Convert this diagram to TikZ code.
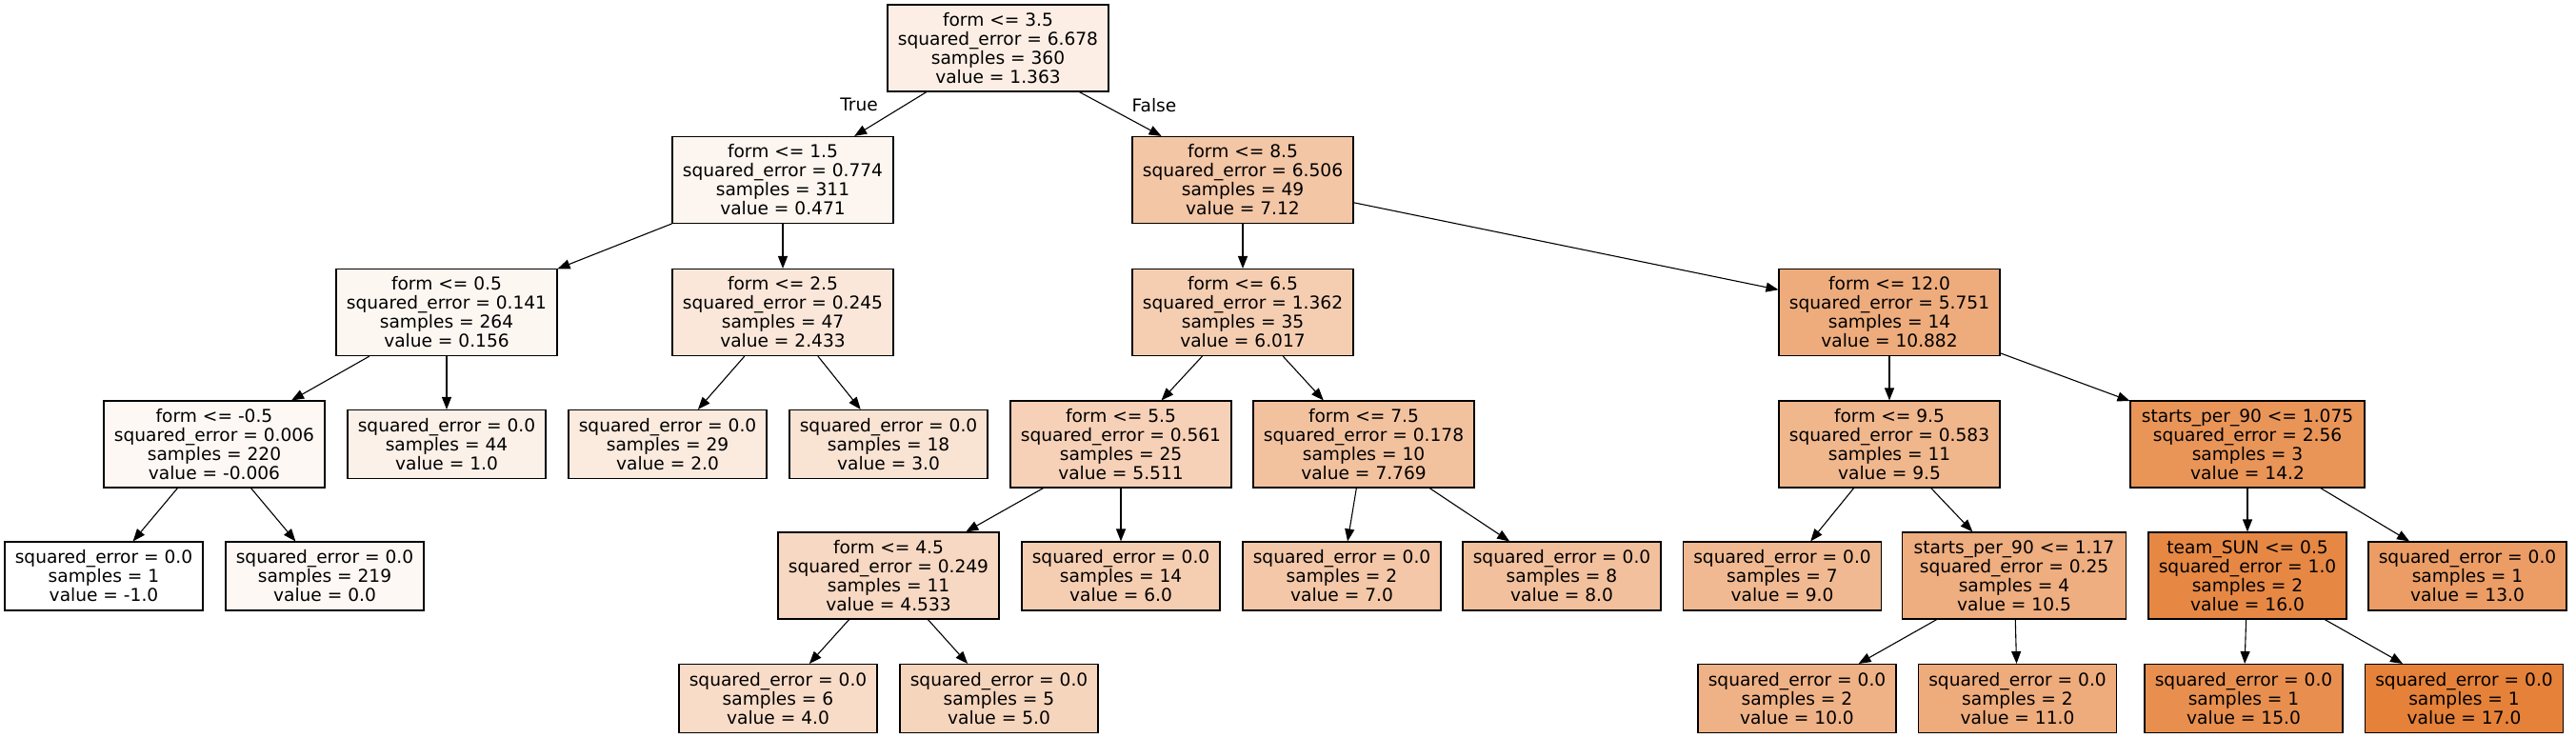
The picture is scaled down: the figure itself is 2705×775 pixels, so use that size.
\documentclass[tikz,border=0pt]{standalone}
\usepackage{fontspec}
\setmainfont{DejaVu Sans}
\usetikzlibrary{arrows.meta}
\definecolor{org}{RGB}{229,129,57}
\begin{document}
\begin{tikzpicture}[x=1pt,y=-1pt,
  nd/.style={draw=black, line width=1.1pt, rectangle, inner sep=0pt,
    minimum width=232pt, minimum height=91pt, align=center,
    font=\fontsize{18.6}{20}\selectfont},
  lf/.style={nd, minimum width=208pt, minimum height=72pt},
  ed/.style={-{Triangle[length=13pt,width=10pt]}, line width=1.1pt},
  lbl/.style={inner sep=0pt, font=\fontsize{18.6}{20}\selectfont}]
\useasboundingbox (0,0) rectangle (2705,775);
% level 0
\node[nd, fill=org!13.13] (n0) at (1048,50.5) {form <= 3.5\\squared\_error = 6.678\\samples = 360\\value = 1.363};
% level 1
\node[nd, fill=org!8.17] (n1) at (822,189) {form <= 1.5\\squared\_error = 0.774\\samples = 311\\value = 0.471};
\node[nd, fill=org!45.11] (n2) at (1305,189) {form <= 8.5\\squared\_error = 6.506\\samples = 49\\value = 7.12};
% level 2
\node[nd, fill=org!6.42] (n3) at (469,328) {form <= 0.5\\squared\_error = 0.141\\samples = 264\\value = 0.156};
\node[nd, fill=org!19.07] (n4) at (822,328) {form <= 2.5\\squared\_error = 0.245\\samples = 47\\value = 2.433};
\node[nd, fill=org!38.98] (n5) at (1305,328) {form <= 6.5\\squared\_error = 1.362\\samples = 35\\value = 6.017};
\node[nd, fill=org!66.01] (n6) at (1984,328) {form <= 12.0\\squared\_error = 5.751\\samples = 14\\value = 10.882};
% level 3
\node[nd, fill=org!5.52] (n7) at (225,466.5) {form <= -0.5\\squared\_error = 0.006\\samples = 220\\value = -0.006};
\node[lf, fill=org!11.11] (n8) at (469,466.5) {squared\_error = 0.0\\samples = 44\\value = 1.0};
\node[lf, fill=org!16.67] (n9) at (701,466.5) {squared\_error = 0.0\\samples = 29\\value = 2.0};
\node[lf, fill=org!22.22] (n10) at (933,466.5) {squared\_error = 0.0\\samples = 18\\value = 3.0};
\node[nd, fill=org!36.17] (n11) at (1177,466.5) {form <= 5.5\\squared\_error = 0.561\\samples = 25\\value = 5.511};
\node[nd, fill=org!48.72] (n12) at (1432,466.5) {form <= 7.5\\squared\_error = 0.178\\samples = 10\\value = 7.769};
\node[nd, fill=org!58.33] (n13) at (1984,466.5) {form <= 9.5\\squared\_error = 0.583\\samples = 11\\value = 9.5};
\node[nd, minimum width=246pt, fill=org!84.44] (n14) at (2360,466.5) {starts\_per\_90 <= 1.075\\squared\_error = 2.56\\samples = 3\\value = 14.2};
% level 4
\node[lf, fill=org!0] (n15) at (109,605) {squared\_error = 0.0\\samples = 1\\value = -1.0};
\node[lf, fill=org!5.56] (n16) at (341,605) {squared\_error = 0.0\\samples = 219\\value = 0.0};
\node[nd, fill=org!30.74] (n17) at (933,604.5) {form <= 4.5\\squared\_error = 0.249\\samples = 11\\value = 4.533};
\node[lf, fill=org!38.89] (n18) at (1177,605) {squared\_error = 0.0\\samples = 14\\value = 6.0};
\node[lf, fill=org!44.44] (n19) at (1409,605) {squared\_error = 0.0\\samples = 2\\value = 7.0};
\node[lf, fill=org!50] (n20) at (1640,605) {squared\_error = 0.0\\samples = 8\\value = 8.0};
\node[lf, fill=org!55.56] (n21) at (1871.5,605) {squared\_error = 0.0\\samples = 7\\value = 9.0};
\node[nd, minimum width=234.5pt, fill=org!63.89] (n22) at (2115,604.5) {starts\_per\_90 <= 1.17\\squared\_error = 0.25\\samples = 4\\value = 10.5};
\node[nd, minimum width=208pt, fill=org!94.44] (n23) at (2360,604.5) {team\_SUN <= 0.5\\squared\_error = 1.0\\samples = 2\\value = 16.0};
\node[lf, fill=org!77.78] (n24) at (2591,605) {squared\_error = 0.0\\samples = 1\\value = 13.0};
% level 5
\node[lf, fill=org!27.78] (n25) at (817,733.5) {squared\_error = 0.0\\samples = 6\\value = 4.0};
\node[lf, fill=org!33.33] (n26) at (1049,733.5) {squared\_error = 0.0\\samples = 5\\value = 5.0};
\node[lf, fill=org!61.11] (n27) at (1887,733.5) {squared\_error = 0.0\\samples = 2\\value = 10.0};
\node[lf, fill=org!66.67] (n28) at (2118.5,733.5) {squared\_error = 0.0\\samples = 2\\value = 11.0};
\node[lf, fill=org!88.89] (n29) at (2356,733.5) {squared\_error = 0.0\\samples = 1\\value = 15.0};
\node[lf, fill=org!100] (n30) at (2587.5,733.5) {squared\_error = 0.0\\samples = 1\\value = 17.0};
% edges
\draw[ed] (n0) -- (n1);
\draw[ed] (n0) -- (n2);
\draw[ed] (n1) -- (n3);
\draw[ed] (n1) -- (n4);
\draw[ed] (n3) -- (n7);
\draw[ed] (n3) -- (n8);
\draw[ed] (n7) -- (n15);
\draw[ed] (n7) -- (n16);
\draw[ed] (n4) -- (n9);
\draw[ed] (n4) -- (n10);
\draw[ed] (n2) -- (n5);
\draw[ed] (n2) -- (n6);
\draw[ed] (n5) -- (n11);
\draw[ed] (n5) -- (n12);
\draw[ed] (n11) -- (n17);
\draw[ed] (n11) -- (n18);
\draw[ed] (n17) -- (n25);
\draw[ed] (n17) -- (n26);
\draw[ed] (n12) -- (n19);
\draw[ed] (n12) -- (n20);
\draw[ed] (n6) -- (n13);
\draw[ed] (n6) -- (n14);
\draw[ed] (n13) -- (n21);
\draw[ed] (n13) -- (n22);
\draw[ed] (n22) -- (n27);
\draw[ed] (n22) -- (n28);
\draw[ed] (n14) -- (n23);
\draw[ed] (n14) -- (n24);
\draw[ed] (n23) -- (n29);
\draw[ed] (n23) -- (n30);
% edge labels
\node[lbl] (tl) at (902,110) {True};
\node[lbl] (fl) at (1212,111) {False};
\end{tikzpicture}
\end{document}
